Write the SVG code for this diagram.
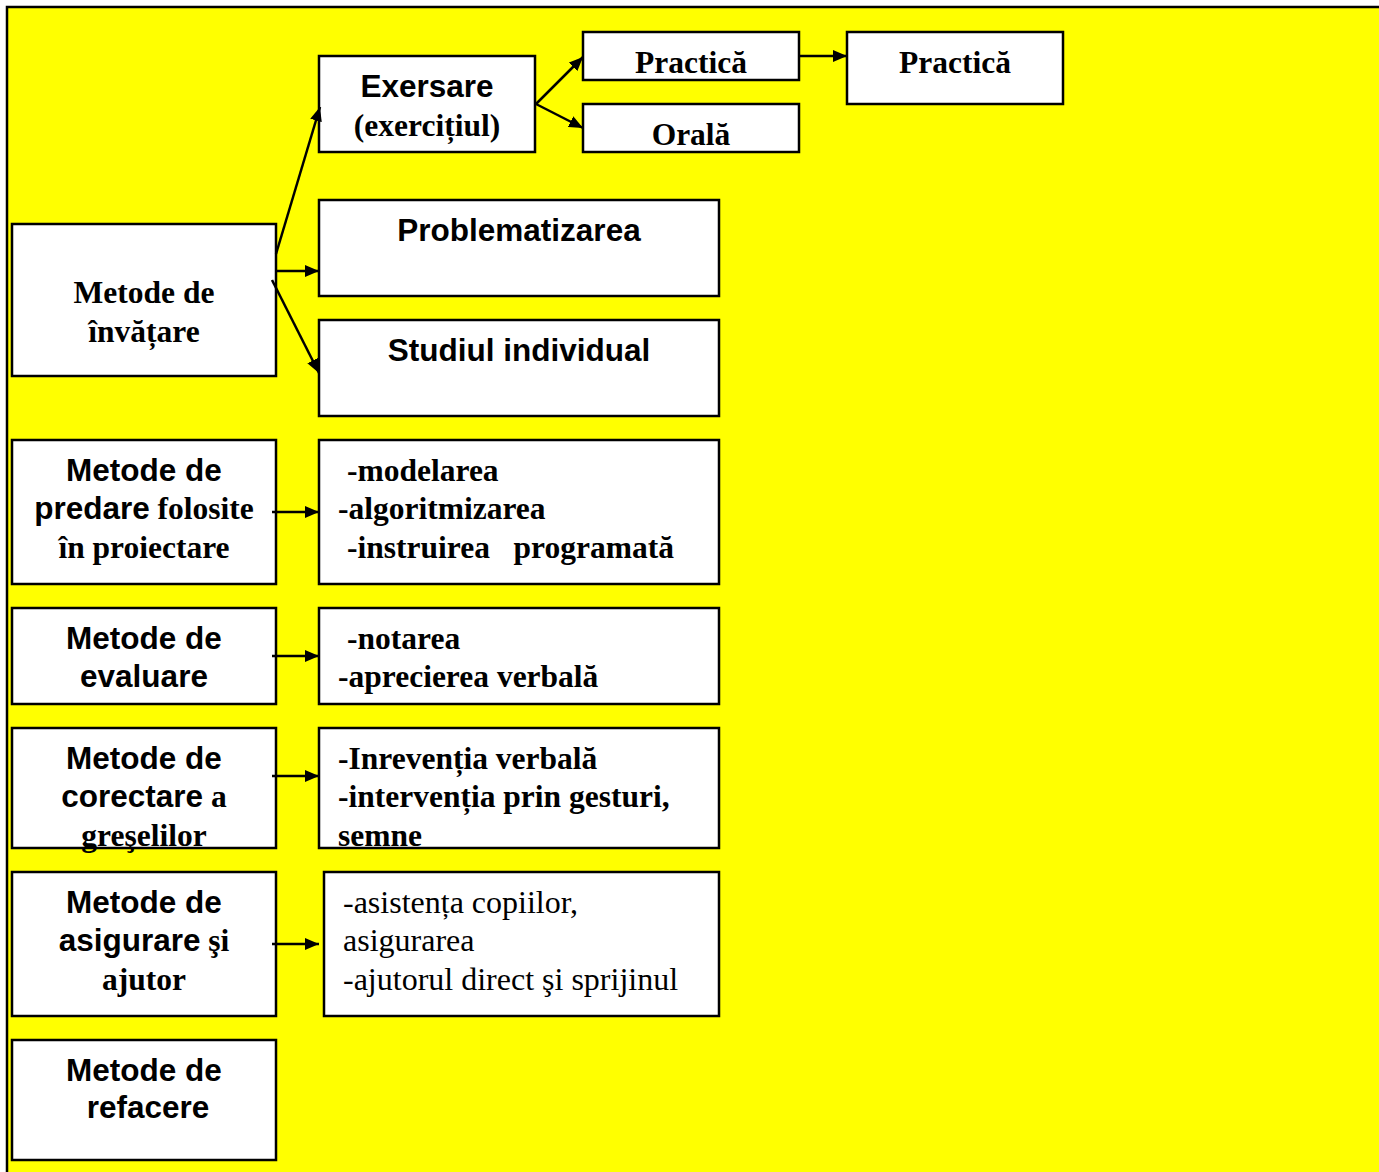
<svg xmlns="http://www.w3.org/2000/svg" width="1379" height="1172" viewBox="0 0 1379 1172">
<defs>
<marker id="ah" viewBox="0 0 14 12" refX="14" refY="6" markerWidth="14" markerHeight="12" markerUnits="userSpaceOnUse" orient="auto"><path d="M0,0 L14,6 L0,12 z" fill="#000"/></marker>
<style>
.bx{fill:#fff;stroke:#000;stroke-width:2.5}
.a{font-family:"Liberation Sans",Arial,sans-serif;font-weight:bold;font-size:31.5px;fill:#000}
.t{font-family:"Liberation Serif","Times New Roman",serif;font-weight:bold;font-size:31.5px;fill:#000}
.tn{font-family:"Liberation Serif","Times New Roman",serif;font-size:32px;fill:#000}
.c{text-anchor:middle}
.ln{stroke:#000;stroke-width:2.5;fill:none;marker-end:url(#ah)}
</style>
</defs>
<rect x="0" y="0" width="1379" height="1172" fill="#fff"/>
<rect x="7" y="7" width="1380" height="1175" fill="#ffff00" stroke="#000" stroke-width="2.5"/>
<g id="exersare"><rect class="bx" x="319" y="56" width="216" height="96"/><text class="a c" x="427" y="97">Exersare</text><text class="t c" x="427" y="136">(exercițiul)</text></g>
<g id="practica1"><rect class="bx" x="583" y="32" width="216" height="48"/><text class="t c" x="691" y="73">Practică</text></g>
<g id="orala"><rect class="bx" x="583" y="104" width="216" height="48"/><text class="t c" x="691" y="145">Orală</text></g>
<g id="practica2"><rect class="bx" x="847" y="32" width="216" height="72"/><text class="t c" x="955" y="73">Practică</text></g>
<g id="problematizarea"><rect class="bx" x="319" y="200" width="400" height="96"/><text class="a c" x="519" y="241">Problematizarea</text></g>
<g id="studiul"><rect class="bx" x="319" y="320" width="400" height="96"/><text class="a c" x="519" y="361">Studiul individual</text></g>
<g id="invatare"><rect class="bx" x="12" y="224" width="264" height="152"/><text class="t c" x="144" y="303">Metode de</text><text class="t c" x="144" y="342">învățare</text></g>
<g id="predare"><rect class="bx" x="12" y="440" width="264" height="144"/><text class="a c" x="144" y="481">Metode de</text><text class="c" x="144" y="519"><tspan class="a">predare</tspan><tspan class="t"> folosite</tspan></text><text class="t c" x="144" y="558">în proiectare</text></g>
<g id="predare-list"><rect class="bx" x="319" y="440" width="400" height="144"/><text class="t" x="347" y="481">-modelarea</text><text class="t" x="338" y="519">-algoritmizarea</text><text class="t" x="347" y="558" xml:space="preserve">-instruirea   programată</text></g>
<g id="evaluare"><rect class="bx" x="12" y="608" width="264" height="96"/><text class="a c" x="144" y="649">Metode de</text><text class="a c" x="144" y="687">evaluare</text></g>
<g id="evaluare-list"><rect class="bx" x="319" y="608" width="400" height="96"/><text class="t" x="347" y="649">-notarea</text><text class="t" x="338" y="687">-aprecierea verbală</text></g>
<g id="corectare"><rect class="bx" x="12" y="728" width="264" height="120"/><text class="a c" x="144" y="769">Metode de</text><text class="c" x="144" y="807"><tspan class="a">corectare</tspan><tspan class="t"> a</tspan></text><text class="t c" x="144" y="846">greşelilor</text></g>
<g id="corectare-list"><rect class="bx" x="319" y="728" width="400" height="120"/><text class="t" x="338" y="769">-Inrevenția verbală</text><text class="t" x="338" y="807">-intervenția prin gesturi,</text><text class="t" x="338" y="846">semne</text></g>
<g id="asigurare"><rect class="bx" x="12" y="872" width="264" height="144"/><text class="a c" x="144" y="913">Metode de</text><text class="c" x="144" y="951"><tspan class="a">asigurare</tspan><tspan class="t"> şi</tspan></text><text class="t c" x="144" y="990">ajutor</text></g>
<g id="asigurare-list"><rect class="bx" x="324" y="872" width="395" height="144"/><text class="tn" x="343" y="913">-asistența copiilor,</text><text class="tn" x="343" y="951">asigurarea</text><text class="tn" x="343" y="990">-ajutorul direct şi sprijinul</text></g>
<g id="refacere"><rect class="bx" x="12" y="1040" width="264" height="120"/><text class="a c" x="144" y="1081">Metode de</text><text class="a c" x="148" y="1118">refacere</text></g>
<g id="connectors">
<line class="ln" x1="276" y1="254" x2="320" y2="107"/>
<line class="ln" x1="276" y1="271" x2="319" y2="271"/>
<line class="ln" x1="272" y1="280" x2="319" y2="373"/>
<line class="ln" x1="536" y1="104" x2="583" y2="57"/>
<line class="ln" x1="536" y1="104" x2="583" y2="128"/>
<line class="ln" x1="799" y1="56" x2="847" y2="56"/>
<line class="ln" x1="272" y1="512" x2="319" y2="512"/>
<line class="ln" x1="272" y1="656" x2="319" y2="656"/>
<line class="ln" x1="272" y1="776" x2="319" y2="776"/>
<line class="ln" x1="272" y1="944" x2="319" y2="944"/>
</g>
</svg>
